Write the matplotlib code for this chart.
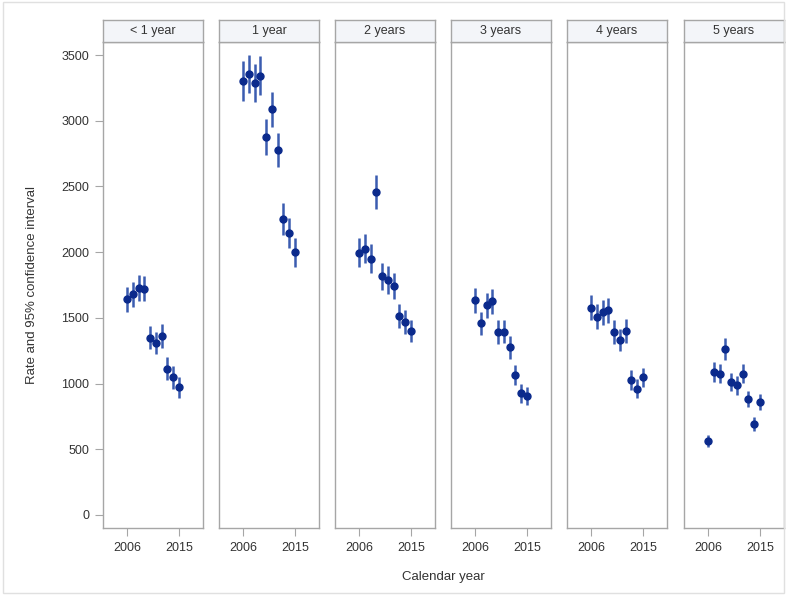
import matplotlib
matplotlib.use("Agg")
import matplotlib.pyplot as plt
from matplotlib.patches import Rectangle

plt.rcParams['font.family'] = ['Liberation Sans', 'DejaVu Sans']

# data
years = [2006, 2007, 2008, 2009, 2010, 2011, 2012, 2013, 2014, 2015]
panels = ['< 1 year', '1 year', '2 years', '3 years', '4 years', '5 years']

rate_lt1 = [1640, 1680, 1725, 1720, 1350, 1310, 1360, 1114, 1046, 970]
rate_1 = [3303, 3354, 3285, 3343, 2876, 3088, 2778, 2253, 2147, 2000]
rate_2 = [1995, 2025, 1950, 2460, 1815, 1790, 1745, 1515, 1470, 1400]
rate_3 = [1634, 1457, 1596, 1627, 1390, 1395, 1275, 1063, 924, 906]
rate_4 = [1576, 1508, 1541, 1556, 1390, 1330, 1400, 1025, 962, 1046]
rate_5 = [565, 1085, 1075, 1265, 1010, 985, 1075, 880, 690, 860]

# half width of the 95% confidence interval
ci_lt1 = [95, 95, 100, 95, 90, 85, 90, 85, 85, 80]
ci_1 = [150, 145, 145, 150, 135, 135, 130, 120, 115, 110]
ci_2 = [110, 110, 110, 130, 105, 105, 100, 90, 90, 85]
ci_3 = [95, 90, 95, 95, 90, 90, 85, 75, 70, 70]
ci_4 = [95, 95, 95, 95, 90, 85, 90, 75, 75, 75]
ci_5 = [45, 75, 70, 85, 70, 70, 70, 60, 55, 60]

rates = [rate_lt1, rate_1, rate_2, rate_3, rate_4, rate_5]
cis = [ci_lt1, ci_1, ci_2, ci_3, ci_4, ci_5]

W, H = 787, 595
fig = plt.figure(figsize=(W / 100, H / 100), dpi=100)
fig.patch.set_facecolor('white')

frame = '#a6a6a6'
text_col = '#333333'
lefts = [103, 219, 335, 451, 567, 684]
pw = 100
top, bottom = 42, 528
head_top = 20

for i, (name, r, c) in enumerate(zip(panels, rates, cis)):
    x0 = lefts[i]
    ax = fig.add_axes([x0 / W, (H - bottom) / H, pw / W, (bottom - top) / H])
    ax.errorbar(years, r, yerr=c, fmt='o', color='#0b2a8c', ms=5,
                ecolor='#3b5cb0', elinewidth=1.8, capsize=0)
    ax.set_xlim(2001.85, 2019.15)
    ax.set_ylim(-100, 3600)
    ax.set_xticks([2006, 2015])
    ax.tick_params(axis='x', direction='out', length=6, color=frame,
                   labelsize=9, labelcolor=text_col, pad=4)
    for s in ax.spines.values():
        s.set_color(frame)
        s.set_linewidth(1.0)
    if i == 0:
        ax.set_yticks(range(0, 3501, 500))
        ax.tick_params(axis='y', direction='out', length=6, color=frame,
                       labelsize=9, labelcolor=text_col, pad=4)
    else:
        ax.set_yticks([])

    # panel header
    hx = fig.add_axes([x0 / W, (H - top) / H, pw / W, (top - head_top) / H])
    hx.set_xticks([])
    hx.set_yticks([])
    hx.set_facecolor('#f3f5f9')
    for s in hx.spines.values():
        s.set_color(frame)
        s.set_linewidth(1.0)
    hx.text(0.5, 0.5, name, ha='center', va='center', fontsize=9,
            color=text_col, transform=hx.transAxes)

fig.text(32 / W, 1 - 285 / H, 'Rate and 95% confidence interval',
         rotation=90, ha='center', va='center', fontsize=9.5, color=text_col)
fig.text(443 / W, 1 - 577 / H, 'Calendar year', ha='center', va='center',
         fontsize=9.5, color=text_col)

fig.patches.append(Rectangle((0.004, 0.004), 0.992, 0.992, transform=fig.transFigure,
                             fill=False, edgecolor='#e0e0e0', linewidth=1))

fig.savefig('out.png', dpi=100)
